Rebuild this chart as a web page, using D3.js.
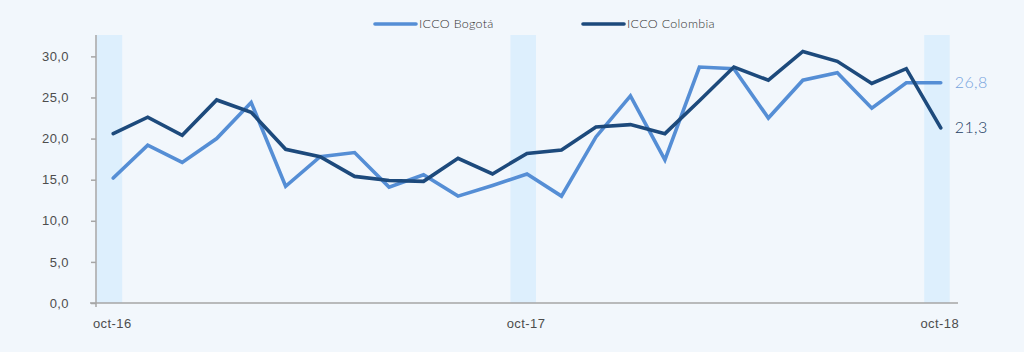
<!DOCTYPE html>
<html>
<head>
<meta charset="utf-8">
<script src="https://cdn.jsdelivr.net/npm/d3@7"></script>
<style>
  body { margin: 0; background: #f2f7fc; }
  svg { display: block; font-family: Lato, "Noto Sans", sans-serif; font-weight: 300; }
</style>
</head>
<body>
<svg id="chart" width="1024" height="352"></svg>
<script>
const months = ['oct-16','nov-16','dic-16','ene-17','feb-17','mar-17','abr-17','may-17','jun-17','jul-17','ago-17','sep-17',
  'oct-17','nov-17','dic-17','ene-18','feb-18','mar-18','abr-18','may-18','jun-18','jul-18','ago-18','sep-18','oct-18']
const bogota = [15.2, 19.2, 17.1, 20.0, 24.4, 14.2, 17.8, 18.3, 14.1, 15.6, 13.0, 14.3,
  15.7, 13.0, 20.2, 25.2, 17.4, 28.7, 28.5, 22.5, 27.1, 28.0, 23.7, 26.8, 26.8]
const colombia = [20.6, 22.6, 20.4, 24.7, 23.2, 18.7, 17.8, 15.4, 14.9, 14.8, 17.6, 15.7,
  18.2, 18.6, 21.4, 21.7, 20.6, 24.6, 28.7, 27.1, 30.6, 29.4, 26.7, 28.5, 21.3]
const highlighted = ['oct-16', 'oct-17', 'oct-18']
const tickLabels = ['oct-16', 'oct-17', 'oct-18']
const yTicks = [0, 5, 10, 15, 20, 25, 30]

const svg = d3.select('#chart')
const margin = { top: 35, bottom: 49, left: 96, right: 66 }
const width = 1024, height = 352
const innerWidth = width - margin.left - margin.right
const innerHeight = height - margin.top - margin.bottom

const lightBlue = '#558ed5'
const darkBlue = '#1d4a7c'

const g = svg.append('g').attr('transform', `translate(${margin.left},${margin.top})`)

const xBand = d3.scaleBand().domain(months).range([0, innerWidth])
const xCenter = d => xBand(d) + xBand.bandwidth() / 2
const yScale = d3.scaleLinear().domain([0, 32.6]).range([innerHeight, 0])

// shaded October columns
g.append('g').selectAll('rect')
  .data(highlighted)
  .enter().append('rect')
  .attr('x', d => xBand(d) + 0.7)
  .attr('y', 0)
  .attr('width', xBand.bandwidth() * 0.74)
  .attr('height', innerHeight)
  .attr('fill', '#ddeffd')

// y axis
const yAxis = d3.axisLeft(yScale)
  .tickValues(yTicks)
  .tickFormat(d => d3.format('.1f')(d).replace('.', ','))
  .tickSize(5)
  .tickPadding(22)
const yAxisG = g.append('g').call(yAxis)
yAxisG.select('.domain').attr('stroke', '#a6a6a6').attr('stroke-width', 1.5)
  .attr('d', `M0,0V${innerHeight + 4}`)
yAxisG.selectAll('.tick line').attr('stroke', '#a6a6a6').attr('stroke-width', 1.5)
yAxisG.selectAll('.tick text').attr('fill', '#4d4d4d').style('font-size', '13px')
  .style('letter-spacing', '0.4px')

// x axis
const xAxis = d3.axisBottom(xBand)
  .tickValues(tickLabels)
  .tickSize(0)
  .tickPadding(16)
const xAxisG = g.append('g').attr('transform', `translate(0,${innerHeight})`).call(xAxis)
xAxisG.select('.domain').attr('stroke', '#a6a6a6').attr('stroke-width', 1.5)
  .attr('d', `M-6,0H${innerWidth}`)
xAxisG.selectAll('.tick text').attr('fill', '#4d4d4d').style('font-size', '13px')
  .style('letter-spacing', '0.4px')
  .attr('dx', -1)

// lines
const line = d3.line()
  .x((d, i) => xCenter(months[i]))
  .y(d => yScale(d))

const series = [
  { name: 'ICCO Bogotá', values: bogota, color: lightBlue },
  { name: 'ICCO Colombia', values: colombia, color: darkBlue }
]

g.selectAll('.series')
  .data(series)
  .enter().append('path')
  .attr('class', 'series')
  .attr('d', d => line(d.values))
  .attr('fill', 'none')
  .attr('stroke', d => d.color)
  .attr('stroke-width', 3.6)
  .attr('stroke-linejoin', 'miter')
  .attr('stroke-linecap', 'round')

// end labels
const last = months.length - 1
g.append('text')
  .text(d3.format('.1f')(bogota[last]).replace('.', ','))
  .attr('x', xCenter(months[last]) + 14)
  .attr('y', yScale(bogota[last]))
  .attr('dy', '0.35em')
  .attr('fill', '#76a3dc')
  .style('font-size', '16px')
  .style('letter-spacing', '0.4px')
g.append('text')
  .text(d3.format('.1f')(colombia[last]).replace('.', ','))
  .attr('x', xCenter(months[last]) + 14)
  .attr('y', yScale(colombia[last]))
  .attr('dy', '0.35em')
  .attr('fill', '#1d3e63')
  .style('font-size', '16px')
  .style('letter-spacing', '0.4px')

// legend
const legend = svg.append('g')
const legendX = [375, 583]
series.forEach((s, i) => {
  const lg = legend.append('g').attr('transform', `translate(${legendX[i]},24)`)
  lg.append('line')
    .attr('x1', 0).attr('x2', 41)
    .attr('y1', 0).attr('y2', 0)
    .attr('stroke', s.color)
    .attr('stroke-width', 3.6)
    .attr('stroke-linecap', 'round')
  lg.append('text')
    .text(s.name)
    .attr('x', 44)
    .attr('dy', '0.35em')
    .attr('fill', '#333333')
    .style('font-size', '12.5px')
    .style('letter-spacing', '0.3px')
})
</script>
</body>
</html>
